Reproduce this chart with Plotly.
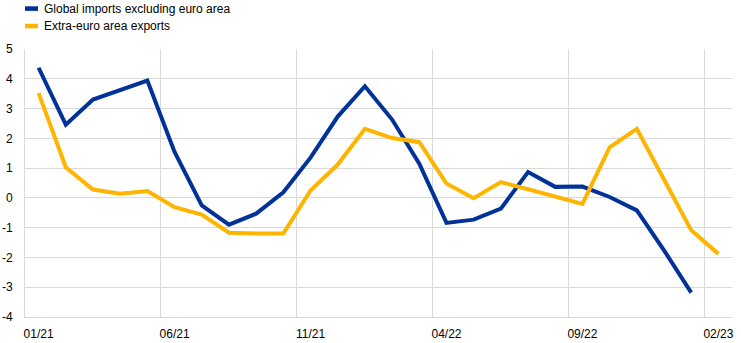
import plotly.graph_objects as go

months = ["01/21","02/21","03/21","04/21","05/21","06/21","07/21","08/21","09/21","10/21","11/21","12/21",
          "01/22","02/22","03/22","04/22","05/22","06/22","07/22","08/22","09/22","10/22","11/22","12/22",
          "01/23","02/23"]
series_names = ["Global imports excluding euro area", "Extra-euro area exports"]
global_imports = [4.37, 2.46, 3.30, 3.63, 3.94, 1.54, -0.25, -0.90, -0.53, 0.19, 1.35, 2.73,
                  3.75, 2.63, 1.15, -0.84, -0.73, -0.36, 0.87, 0.37, 0.38, 0.03, -0.42, -1.76,
                  -3.18]
extra_exports = [3.52, 1.03, 0.28, 0.14, 0.23, -0.31, -0.56, -1.17, -1.20, -1.20, 0.25, 1.12,
                 2.32, 2.01, 1.87, 0.48, -0.01, 0.53, 0.29, 0.03, -0.20, 1.70, 2.32, 0.62,
                 -1.09, -1.88]
x_tick_labels = ["01/21", "06/21", "11/21", "04/22", "09/22", "02/23"]
y_tick_values = [-4, -3, -2, -1, 0, 1, 2, 3, 4, 5]
y_tick_labels = ["-4", "-3", "-2", "-1", "0", "1", "2", "3", "4", "5"]

colors = ["#003299", "#FFB400"]
GRID = "#d9d9d9"

idx = list(range(len(months)))
fig = go.Figure()
fig.add_trace(go.Scatter(x=idx[:len(global_imports)], y=global_imports, mode="lines",
                         name=series_names[0], line=dict(color=colors[0], width=4),
                         showlegend=False))
fig.add_trace(go.Scatter(x=idx[:len(extra_exports)], y=extra_exports, mode="lines",
                         name=series_names[1], line=dict(color=colors[1], width=4),
                         showlegend=False))

W, H = 741, 343
L, R, T, B = 25, 9.4, 48.5, 26
pw, ph = W - L - R, H - T - B

def px_x(px):
    return (px - L) / pw

def px_y(py):
    return (H - B - py) / ph

# manual legend
for i, (name, c) in enumerate(zip(series_names, colors)):
    cy = 8 + 17.5 * i
    fig.add_shape(type="rect", xref="paper", yref="paper",
                  x0=px_x(25), x1=px_x(38), y0=px_y(cy + 2.3), y1=px_y(cy - 2.3),
                  fillcolor=c, line=dict(width=0), layer="above")
    fig.add_annotation(xref="paper", yref="paper", x=px_x(42), y=px_y(cy),
                       text=name, showarrow=False, xanchor="left", yanchor="middle",
                       font=dict(family="Liberation Sans, Arial", size=12, color="#000000"))

tick_pos = [months.index(t) for t in x_tick_labels]
fig.update_layout(
    width=W, height=H,
    margin=dict(l=L, r=R, t=T, b=B, autoexpand=False),
    paper_bgcolor="white", plot_bgcolor="white",
    font=dict(family="Liberation Sans, Arial", size=12, color="#000000"),
    showlegend=False,
    xaxis=dict(range=[-0.5, len(months) - 0.5], tickmode="array", tickvals=tick_pos,
               ticktext=x_tick_labels, showgrid=False, zeroline=False, automargin=False,
               showline=True, linecolor=GRID, linewidth=1, ticks="",
               minor=dict(tick0=-0.5, dtick=5, showgrid=True, gridcolor=GRID, gridwidth=1, ticks=""),
               ticklabelstandoff=6),
    yaxis=dict(range=[-4, 5], tickmode="array", tickvals=y_tick_values, ticktext=y_tick_labels,
               showgrid=True, gridcolor=GRID, gridwidth=1, zeroline=False, automargin=False,
               showline=True, linecolor=GRID, linewidth=1, ticks="",
               ticklabelstandoff=9),
)

fig.write_html("out.html")
